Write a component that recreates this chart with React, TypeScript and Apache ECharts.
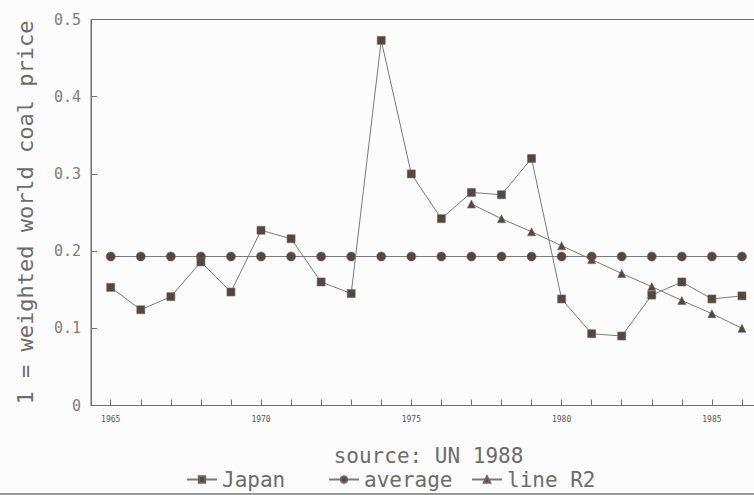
import React, { useEffect, useRef } from "react";
import * as echarts from "echarts";

// Years on the horizontal axis
const years: number[] = [
  1965, 1966, 1967, 1968, 1969, 1970, 1971, 1972, 1973, 1974, 1975,
  1976, 1977, 1978, 1979, 1980, 1981, 1982, 1983, 1984, 1985, 1986,
];

// Japan's coal price relative to the weighted world coal price
const japan: number[] = [
  0.153, 0.124, 0.141, 0.186, 0.147, 0.227, 0.216, 0.16, 0.145, 0.473, 0.3,
  0.242, 0.276, 0.273, 0.32, 0.138, 0.093, 0.09, 0.143, 0.16, 0.138, 0.142,
];

// Average level across the whole period
const average: number[] = [
  0.193, 0.193, 0.193, 0.193, 0.193, 0.193, 0.193, 0.193, 0.193, 0.193, 0.193,
  0.193, 0.193, 0.193, 0.193, 0.193, 0.193, 0.193, 0.193, 0.193, 0.193, 0.193,
];

// Fitted trend line (from 1977 onward)
const lineYears: number[] = [1977, 1978, 1979, 1980, 1981, 1982, 1983, 1984, 1985, 1986];
const lineR2: number[] = [0.261, 0.242, 0.225, 0.207, 0.189, 0.171, 0.154, 0.136, 0.119, 0.1];

const xLabelValues: number[] = [1965, 1970, 1975, 1980, 1985];
const yTicks: number[] = [0, 0.1, 0.2, 0.3, 0.4, 0.5];

const MONO = "'DejaVu Sans Mono', monospace";
const LINE = "#7a7a7a";
const MARK = "#52483f";
const TEXT = "#6c6c6c";
const AXIS = "#707070";

export default function App() {
  const ref = useRef<HTMLDivElement>(null);

  useEffect(() => {
    if (!ref.current) return;
    const chart = echarts.init(ref.current, undefined, { renderer: "svg" });

    const pairs = (xs: number[], ys: number[]) => xs.map((x, i) => [x, ys[i]]);

    const seriesBase = {
      type: "line" as const,
      lineStyle: { color: LINE, width: 1 },
      itemStyle: { color: MARK, borderColor: "#6e665e", borderWidth: 0.6 },
      emphasis: { disabled: true },
      z: 3,
    };

    const legendBase = {
      orient: "horizontal" as const,
      top: 464,
      padding: 5,
      itemWidth: 30,
      itemHeight: 8,
      itemGap: 10,
      textStyle: { fontFamily: MONO, fontSize: 21, lineHeight: 18, color: TEXT },
      selectedMode: false as const,
    };

    chart.setOption({
      animation: false,
      backgroundColor: "#fcfcfc",
      grid: {
        left: 91,
        top: 19.5,
        bottom: 89.5,
        right: 0,
        show: true,
        borderColor: AXIS,
        borderWidth: 1,
        backgroundColor: "transparent",
      },
      xAxis: {
        type: "value",
        min: 1964.344,
        max: 1986.8,
        name: "source: UN 1988",
        nameLocation: "middle",
        nameGap: 41,
        nameTextStyle: { fontFamily: MONO, fontSize: 21, lineHeight: 18, color: TEXT },
        axisLine: { show: true, lineStyle: { color: AXIS, width: 1 } },
        axisTick: {
          show: true,
          inside: true,
          length: 6,
          customValues: years,
          lineStyle: { color: AXIS },
        },
        axisLabel: {
          customValues: xLabelValues,
          fontFamily: MONO,
          fontSize: 8,
          color: "#555",
          margin: 10,
          formatter: (v: number) => String(Math.round(v)),
        },
        splitLine: { show: false },
      },
      yAxis: {
        type: "value",
        min: 0,
        max: 0.5,
        interval: 0.1,
        name: "1 = weighted world coal price",
        nameLocation: "middle",
        nameGap: 57,
        nameRotate: 90,
        nameTextStyle: { fontFamily: MONO, fontSize: 22, lineHeight: 18, color: TEXT },
        axisLine: { show: true, lineStyle: { color: AXIS, width: 1 } },
        axisTick: { show: true, inside: true, length: 6, lineStyle: { color: AXIS } },
        axisLabel: {
          fontFamily: MONO,
          fontSize: 15,
          color: "#7c7c7c",
          margin: 10,
          formatter: (v: number) => {
            const t = yTicks.find((k) => Math.abs(k - v) < 1e-9);
            return t === 0 ? "0" : (t ?? v).toFixed(1);
          },
        },
        splitLine: { show: false },
      },
      legend: [
        { ...legendBase, left: 181, data: ["Japan"] },
        { ...legendBase, left: 323, data: ["average"] },
        { ...legendBase, left: 466, data: ["line R2"] },
      ],
      series: [
        {
          ...seriesBase,
          name: "average",
          data: pairs(years, average),
          symbol: "circle",
          symbolSize: 9,
        },
        {
          ...seriesBase,
          name: "Japan",
          data: pairs(years, japan),
          symbol: "rect",
          symbolSize: 8,
          z: 4,
        },
        {
          ...seriesBase,
          name: "line R2",
          data: pairs(lineYears, lineR2),
          symbol: "triangle",
          symbolSize: 8,
        },
      ],
      graphic: [
        {
          type: "rect",
          left: 0,
          top: 493,
          shape: { width: 770, height: 2 },
          style: { fill: "#9a9a9a" },
          silent: true,
        },
      ],
    });

    return () => chart.dispose();
  }, []);

  return (
    <div
      style={{
        position: "fixed",
        left: 0,
        top: 0,
        width: 754,
        height: 495,
        overflow: "hidden",
        background: "#fcfcfc",
      }}
    >
      <div ref={ref} style={{ width: 766, height: 495 }} />
    </div>
  );
}
